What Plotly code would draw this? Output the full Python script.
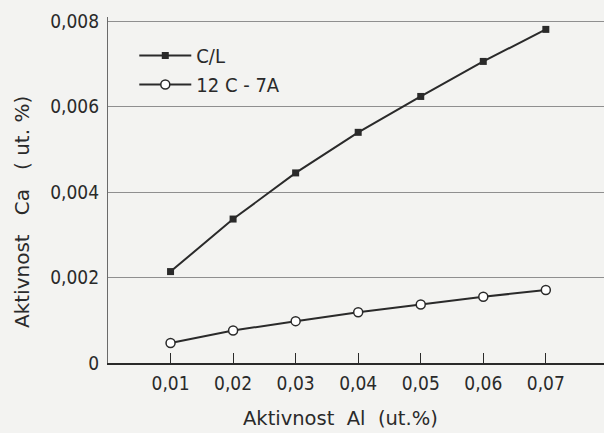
import plotly.graph_objects as go

al_activity = [0.01, 0.02, 0.03, 0.04, 0.05, 0.06, 0.07]
ca_cl = [0.00214, 0.00337, 0.00445, 0.00540, 0.00624, 0.00706, 0.00781]
ca_12c7a = [0.00047, 0.00076, 0.00098, 0.00119, 0.00137, 0.00155, 0.00171]

x_ticks = [0.01, 0.02, 0.03, 0.04, 0.05, 0.06, 0.07]
x_ticktext = ["0,01", "0,02", "0,03", "0,04", "0,05", "0,06", "0,07"]
y_ticks = [0, 0.002, 0.004, 0.006, 0.008]
y_ticktext = ["0", "0,002", "0,004", "0,006", "0,008"]

ink = "#2a2a2a"
bg = "#f3f3f1"
font = "DejaVu Sans Condensed, Liberation Sans Narrow, DejaVu Sans"
title_font = "DejaVu Sans"

fig = go.Figure()
fig.add_trace(go.Scatter(
    x=al_activity, y=ca_cl, name="C/L", mode="lines+markers",
    line=dict(color=ink, width=2),
    marker=dict(symbol="square", size=7, color=ink),
))
fig.add_trace(go.Scatter(
    x=al_activity, y=ca_12c7a, name="12 C - 7A", mode="lines+markers",
    line=dict(color=ink, width=2),
    marker=dict(symbol="circle", size=9, color="white", line=dict(color=ink, width=1.5)),
))

fig.update_layout(
    width=604, height=433,
    margin=dict(l=108, r=0, t=17, b=70),
    paper_bgcolor=bg, plot_bgcolor=bg,
    font=dict(family=font, color=ink, size=19),
    showlegend=True,
    legend=dict(x=0.053, y=0.945, xanchor="left", yanchor="top",
                bgcolor="rgba(0,0,0,0)", font=dict(size=20, color=ink),
                tracegroupgap=0, itemwidth=52),
    xaxis=dict(range=[0, 0.0793], tickvals=x_ticks, ticktext=x_ticktext,
               showgrid=False, zeroline=False, showline=True, linecolor=ink, linewidth=1.5,
               ticks="inside", ticklen=10, tickwidth=1.3, tickcolor=ink,
               ticklabelstandoff=2,
               tickfont=dict(size=19, color=ink)),
    yaxis=dict(range=[0, 0.0081], tickvals=y_ticks, ticktext=y_ticktext,
               showgrid=True, gridcolor="#8f8f8f", gridwidth=1.2, zeroline=False,
               showline=True, linecolor="#6a6a6a", linewidth=1.3,
               ticks="", ticklabelstandoff=4, tickfont=dict(size=19, color=ink)),
    annotations=[
        dict(text="Aktivnost  Al  (ut.%)", xref="paper", yref="paper",
             x=(340 - 108) / 496, y=-(405 - 363) / 346, xanchor="center", yanchor="top",
             showarrow=False, font=dict(family=title_font, size=19.5, color=ink)),
        dict(text="Aktivnost   Ca   ( ut. %)", xref="paper", yref="paper",
             x=-(108 - 22) / 496, y=(363 - 212) / 346, xanchor="center", yanchor="middle",
             textangle=-90, showarrow=False, font=dict(family=title_font, size=20, color=ink)),
    ],
)

fig.write_html(
    "out.html",
    config={"displayModeBar": False},
    post_script="document.body.style.margin='0';document.body.style.padding='0';",
)
